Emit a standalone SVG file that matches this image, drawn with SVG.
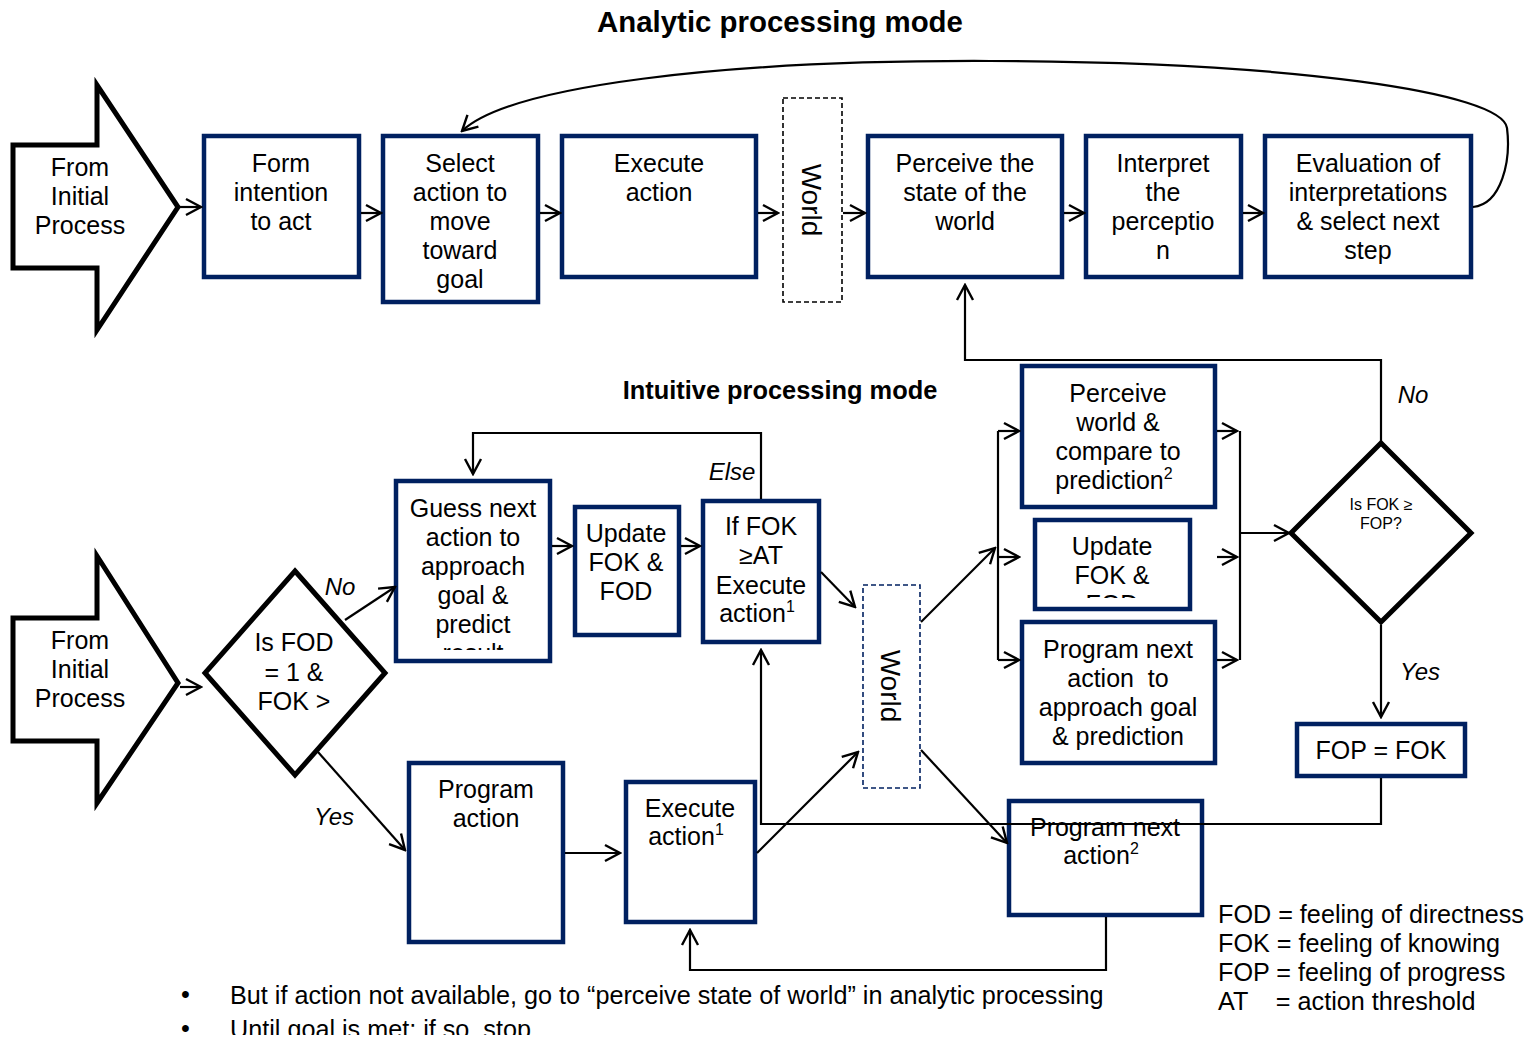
<svg xmlns="http://www.w3.org/2000/svg" width="1530" height="1042" viewBox="0 0 1530 1042">
  <defs>
    <style>
      .t { font-family: "Liberation Sans", Arial, sans-serif; font-size: 25px; fill: #000; text-anchor: middle; }
      .tw { font-family: "Liberation Sans", Arial, sans-serif; font-size: 28px; fill: #000; text-anchor: middle; }
      .ts { font-family: "Liberation Sans", Arial, sans-serif; font-size: 16px; fill: #000; text-anchor: middle; }
      .it { font-family: "Liberation Sans", Arial, sans-serif; font-size: 24px; font-style: italic; fill: #000; text-anchor: middle; }
      .h { font-family: "Liberation Sans", Arial, sans-serif; font-weight: bold; fill: #000; text-anchor: middle; }
      .lg { font-family: "Liberation Sans", Arial, sans-serif; font-size: 25.2px; fill: #000; }
      .box { fill: #fff; stroke: #002060; stroke-width: 4.5; }
      .big { fill: #fff; stroke: #000; stroke-width: 5; stroke-linejoin: miter; }
      .dia { fill: #fff; stroke: #000; stroke-width: 5; }
      .world1 { fill: #fff; stroke: #000; stroke-width: 1.6; stroke-dasharray: 5 3; }
      .world2 { fill: #fff; stroke: #002060; stroke-width: 1.6; stroke-dasharray: 5 3; }
      .c { fill: none; stroke: #000; stroke-width: 2.2; }
      .ca { fill: none; stroke: #000; stroke-width: 2.2; marker-end: url(#ah); }
      .sup { font-size: 16px; }
    </style>
    <marker id="ah" viewBox="0 0 20 20" refX="18" refY="10" markerWidth="20" markerHeight="20" markerUnits="userSpaceOnUse" orient="auto">
      <path d="M3,2 L18,10 L3,18" fill="none" stroke="#000" stroke-width="2.4"/>
    </marker>
    <clipPath id="clipGuess"><rect x="398" y="483" width="150" height="167"/></clipPath>
    <clipPath id="clipUpd2"><rect x="1037" y="522" width="151" height="76"/></clipPath>
    <clipPath id="clipPage"><rect x="0" y="0" width="1530" height="1035"/></clipPath>
  </defs>

  <rect x="0" y="0" width="1530" height="1042" fill="#fff"/>

  <!-- Headings -->
  <text class="h" x="780" y="32" font-size="29.4">Analytic processing mode</text>
  <text class="h" x="780" y="399" font-size="25.4">Intuitive processing mode</text>

  <!-- Analytic processing nodes -->
  <g id="from-initial-1">
    <polygon class="big" points="13,145 97,145 97,85 178,207 97,330 97,268 13,268"/>
    <text class="t" x="80" y="176">From</text>
    <text class="t" x="80" y="205">Initial</text>
    <text class="t" x="80" y="234">Process</text>
  </g>
  <g id="form-intention">
    <rect class="box" x="204" y="136" width="155" height="141"/>
    <text class="t" x="281" y="172">Form</text>
    <text class="t" x="281" y="201">intention</text>
    <text class="t" x="281" y="230">to act</text>
  </g>
  <g id="select-action">
    <rect class="box" x="383" y="136" width="155" height="166"/>
    <text class="t" x="460" y="172">Select</text>
    <text class="t" x="460" y="201">action to</text>
    <text class="t" x="460" y="230">move</text>
    <text class="t" x="460" y="259">toward</text>
    <text class="t" x="460" y="288">goal</text>
  </g>
  <g id="execute-action">
    <rect class="box" x="562" y="136" width="194" height="141"/>
    <text class="t" x="659" y="172">Execute</text>
    <text class="t" x="659" y="201">action</text>
  </g>
  <g id="world-1">
    <rect class="world1" x="783" y="98" width="59" height="204"/>
    <text class="tw" x="812" y="200" transform="rotate(90 812 200)" dy="10">World</text>
  </g>
  <g id="perceive-state">
    <rect class="box" x="868" y="136" width="194" height="141"/>
    <text class="t" x="965" y="172">Perceive the</text>
    <text class="t" x="965" y="201">state of the</text>
    <text class="t" x="965" y="230">world</text>
  </g>
  <g id="interpret">
    <rect class="box" x="1086" y="136" width="155" height="141"/>
    <text class="t" x="1163" y="172">Interpret</text>
    <text class="t" x="1163" y="201">the</text>
    <text class="t" x="1163" y="230">perceptio</text>
    <text class="t" x="1163" y="259">n</text>
  </g>
  <g id="evaluation">
    <rect class="box" x="1265" y="136" width="206" height="141"/>
    <text class="t" x="1368" y="172">Evaluation of</text>
    <text class="t" x="1368" y="201">interpretations</text>
    <text class="t" x="1368" y="230">&amp; select next</text>
    <text class="t" x="1368" y="259">step</text>
  </g>

  <!-- Intuitive processing nodes -->
  <g id="from-initial-2">
    <polygon class="big" points="13,618 97,618 97,556 178,683 97,803 97,741 13,741"/>
    <text class="t" x="80" y="649">From</text>
    <text class="t" x="80" y="678">Initial</text>
    <text class="t" x="80" y="707">Process</text>
  </g>
  <g id="is-fod">
    <polygon class="dia" points="295,571 385,673 295,775 205,673"/>
    <text class="t" x="294" y="651">Is FOD</text>
    <text class="t" x="294" y="681">= 1 &amp;</text>
    <text class="t" x="294" y="710">FOK &gt;</text>
  </g>
  <g id="guess-next">
    <rect class="box" x="396" y="481" width="154" height="180"/>
    <g clip-path="url(#clipGuess)">
      <text class="t" x="473" y="517">Guess next</text>
      <text class="t" x="473" y="546">action to</text>
      <text class="t" x="473" y="575">approach</text>
      <text class="t" x="473" y="604">goal &amp;</text>
      <text class="t" x="473" y="633">predict</text>
      <text class="t" x="473" y="662">result</text>
    </g>
  </g>
  <g id="update-fok-fod">
    <rect class="box" x="575" y="507" width="104" height="128"/>
    <text class="t" x="626" y="542">Update</text>
    <text class="t" x="626" y="571">FOK &amp;</text>
    <text class="t" x="626" y="600">FOD</text>
  </g>
  <g id="if-fok">
    <rect class="box" x="703" y="501" width="116" height="141"/>
    <text class="t" x="761" y="535">If FOK</text>
    <text class="t" x="761" y="564">≥AT</text>
    <text class="t" x="761" y="594">Execute</text>
    <text class="t" x="757" y="622">action<tspan class="sup" dy="-10">1</tspan></text>
  </g>
  <g id="world-2">
    <rect class="world2" x="863" y="585" width="57" height="203"/>
    <text class="tw" x="891" y="686" transform="rotate(90 891 686)" dy="10">World</text>
  </g>
  <g id="perceive-compare">
    <rect class="box" x="1022" y="366" width="193" height="141"/>
    <text class="t" x="1118" y="402">Perceive</text>
    <text class="t" x="1118" y="431">world &amp;</text>
    <text class="t" x="1118" y="460">compare to</text>
    <text class="t" x="1114" y="489">prediction<tspan class="sup" dy="-10">2</tspan></text>
  </g>
  <g id="update-fok-2">
    <rect class="box" x="1035" y="520" width="155" height="89"/>
    <g clip-path="url(#clipUpd2)">
      <text class="t" x="1112" y="555">Update</text>
      <text class="t" x="1112" y="584">FOK &amp;</text>
      <text class="t" x="1112" y="613">FOD</text>
    </g>
  </g>
  <g id="program-next-approach">
    <rect class="box" x="1022" y="622" width="193" height="141"/>
    <text class="t" x="1118" y="658">Program next</text>
    <text class="t" x="1118" y="687" xml:space="preserve">action  to</text>
    <text class="t" x="1118" y="716">approach goal</text>
    <text class="t" x="1118" y="745">&amp; prediction</text>
  </g>
  <g id="is-fok-fop">
    <polygon class="dia" points="1381,443 1471,533 1381,622 1291,533"/>
    <text class="ts" x="1381" y="510">Is FOK ≥</text>
    <text class="ts" x="1381" y="529">FOP?</text>
  </g>
  <g id="fop-fok">
    <rect class="box" x="1297" y="724" width="168" height="52"/>
    <text class="t" x="1381" y="759">FOP = FOK</text>
  </g>
  <g id="program-action">
    <rect class="box" x="409" y="763" width="154" height="179"/>
    <text class="t" x="486" y="798">Program</text>
    <text class="t" x="486" y="827">action</text>
  </g>
  <g id="execute-action-1">
    <rect class="box" x="626" y="782" width="129" height="140"/>
    <text class="t" x="690" y="817">Execute</text>
    <text class="t" x="686" y="845">action<tspan class="sup" dy="-10">1</tspan></text>
  </g>
  <g id="program-next-action">
    <rect class="box" x="1009" y="801" width="193" height="114"/>
    <text class="t" x="1105" y="836">Program next</text>
    <text class="t" x="1101" y="864">action<tspan class="sup" dy="-10">2</tspan></text>
  </g>

  <!-- Connectors (drawn over the boxes) -->
  <g id="connectors">
    <!-- analytic row -->
    <path class="ca" d="M180,207 L201,207"/>
    <path class="ca" d="M361,213 L381,213"/>
    <path class="ca" d="M540,213 L560,213"/>
    <path class="ca" d="M758,213 L778,213"/>
    <path class="ca" d="M843,213 L865,213"/>
    <path class="ca" d="M1064,213 L1084,213"/>
    <path class="ca" d="M1243,213 L1263,213"/>
    <path class="ca" d="M1473,207 C1502,204 1511,160 1507,128 C1502,92 1290,62 990,61 C720,60 510,86 462,131"/>
    <path class="ca" d="M1381,443 V360 H965 V285"/>

    <!-- intuitive section -->
    <path class="ca" d="M180,687 L201,687"/>
    <path class="ca" d="M345,620 L395,587"/>
    <path class="ca" d="M318,752 L405,850"/>
    <path class="ca" d="M552,546 L572,546"/>
    <path class="ca" d="M681,546 L700,546"/>
    <path class="ca" d="M761,499 V433 H473 V474"/>
    <path class="ca" d="M821,572 L855,607"/>
    <path class="ca" d="M921,622 L995,548"/>
    <path class="c" d="M998,431 V660"/>
    <path class="ca" d="M998,431 H1019"/>
    <path class="ca" d="M998,557 H1019"/>
    <path class="ca" d="M998,660 H1019"/>
    <path class="ca" d="M1217,431 H1237"/>
    <path class="ca" d="M1217,557 H1237"/>
    <path class="ca" d="M1217,660 H1237"/>
    <path class="c" d="M1240,431 V660"/>
    <path class="ca" d="M1240,533 H1289"/>
    <path class="ca" d="M1381,625 V717"/>
    <path class="ca" d="M1381,778 V824 H761 V650"/>
    <path class="ca" d="M565,853 H620"/>
    <path class="ca" d="M757,853 L858,752"/>
    <path class="ca" d="M921,750 L1007,843"/>
    <path class="ca" d="M1106,917 V970 H690 V930"/>
  </g>

  <!-- Branch labels -->
  <text class="it" x="340" y="595">No</text>
  <text class="it" x="334" y="825">Yes</text>
  <text class="it" x="732" y="480">Else</text>
  <text class="it" x="1413" y="403">No</text>
  <text class="it" x="1420" y="680">Yes</text>

  <!-- Legend -->
  <g id="legend">
    <text class="lg" x="1218" y="923">FOD = feeling of directness</text>
    <text class="lg" x="1218" y="952">FOK = feeling of knowing</text>
    <text class="lg" x="1218" y="981">FOP = feeling of progress</text>
    <text class="lg" x="1218" y="1010" xml:space="preserve">AT    = action threshold</text>
  </g>

  <!-- Notes -->
  <g id="notes" clip-path="url(#clipPage)">
    <text class="lg" x="181" y="1003">•</text>
    <text class="lg" x="230" y="1004">But if action not available, go to “perceive state of world” in analytic processing</text>
    <text class="lg" x="181" y="1037">•</text>
    <text class="lg" x="230" y="1038">Until goal is met; if so, stop</text>
  </g>
</svg>
